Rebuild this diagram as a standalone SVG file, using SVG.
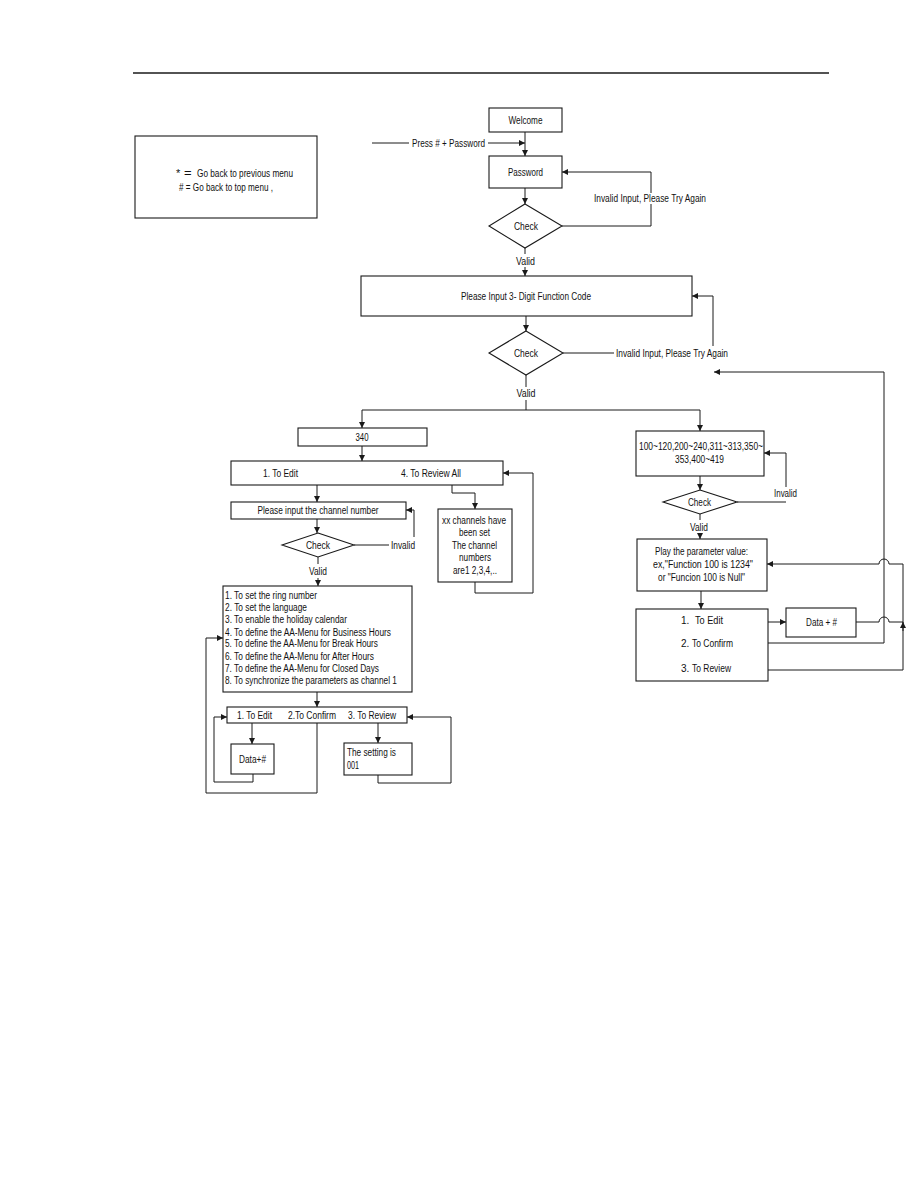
<svg xmlns="http://www.w3.org/2000/svg" width="918" height="1188" viewBox="0 0 918 1188">
<style>
.b{fill:#fff;stroke:#1a1a1a;stroke-width:1.1}
.c{fill:none;stroke:#1a1a1a;stroke-width:1}
.t{font-family:"Liberation Sans",Arial,sans-serif;font-size:10px;fill:#111}
.m{text-anchor:middle}
</style>
<defs>
<marker id="ah" viewBox="0 0 10 10" refX="10" refY="5" markerWidth="7" markerHeight="6" orient="auto" markerUnits="userSpaceOnUse"><path d="M0,0 L10,5 L0,10 z" fill="#1a1a1a"/></marker>
</defs>
<rect width="918" height="1188" fill="#fff"/>
<line x1="133" y1="73" x2="829" y2="73" stroke="#1a1a1a" stroke-width="1.5"/>

<g id="legend">
<rect class="b" x="135" y="136" width="182" height="82"/>
<text class="t" x="176" y="177" style="font-size:11px">*</text>
<text class="t" x="184" y="177" style="font-size:13px">=</text>
<text class="t" x="197" y="177" textLength="96" lengthAdjust="spacingAndGlyphs">Go back to previous menu</text>
<text class="t" x="179" y="191" textLength="94" lengthAdjust="spacingAndGlyphs"># = Go back to top menu ,</text>
</g>

<g id="connectors">
<path class="c" d="M372,143 H409"/>
<path class="c" d="M488,143 H525" marker-end="url(#ah)"/>
<path class="c" d="M525,132 V156" marker-end="url(#ah)"/>
<path class="c" d="M525,188 V204" marker-end="url(#ah)"/>
<path class="c" d="M562,226 H651 V204"/>
<path class="c" d="M651,193 V172 H562" marker-end="url(#ah)"/>
<path class="c" d="M525,248 V254"/>
<path class="c" d="M525,267 V276" marker-end="url(#ah)"/>
<path class="c" d="M526,316 V331" marker-end="url(#ah)"/>
<path class="c" d="M563,353 H614"/>
<path class="c" d="M713,346 V296 H692" marker-end="url(#ah)"/>
<path class="c" d="M526,375 V387"/>
<path class="c" d="M526,400 V410"/>
<path class="c" d="M526,410 H362 V428" marker-end="url(#ah)"/>
<path class="c" d="M526,410 H700 V431" marker-end="url(#ah)"/>
<path class="c" d="M362,446 V461" marker-end="url(#ah)"/>
<path class="c" d="M317,485 V502" marker-end="url(#ah)"/>
<path class="c" d="M317,519 V533" marker-end="url(#ah)"/>
<path class="c" d="M354,545 H389"/>
<path class="c" d="M414,537 V510 H406" marker-end="url(#ah)"/>
<path class="c" d="M318,557 V564"/>
<path class="c" d="M318,578 V586" marker-end="url(#ah)"/>
<path class="c" d="M452,485 V493 H475 V509" marker-end="url(#ah)"/>
<path class="c" d="M475,582 V593 H533 V473 H503" marker-end="url(#ah)"/>
<path class="c" d="M317,692 V707" marker-end="url(#ah)"/>
<path class="c" d="M317,723 V793 H206 V638 H223" marker-end="url(#ah)"/>
<path class="c" d="M253,774 V782 H214 V717 H227" marker-end="url(#ah)"/>
<path class="c" d="M252,723 V744" marker-end="url(#ah)"/>
<path class="c" d="M378,723 V743" marker-end="url(#ah)"/>
<path class="c" d="M378,775 V783 H451 V717 H407" marker-end="url(#ah)"/>
<path class="c" d="M700,476 V490" marker-end="url(#ah)"/>
<path class="c" d="M737,502 H786"/>
<path class="c" d="M786,487 V453 H764" marker-end="url(#ah)"/>
<path class="c" d="M700,514 V520"/>
<path class="c" d="M700,533 V539" marker-end="url(#ah)"/>
<path class="c" d="M701,591 V609" marker-end="url(#ah)"/>
<path class="c" d="M768,622 H786" marker-end="url(#ah)"/>
<path class="c" d="M856,622 H879 A5,5 0 0 1 889,622 H903"/>
<path class="c" d="M768,670 H903 V564 H889 A5,5 0 0 0 879,564 H767" marker-end="url(#ah)"/>
<path class="c" d="M903,631 V622" marker-end="url(#ah)"/>
<path class="c" d="M768,643 H884 V372 H714" marker-end="url(#ah)"/>
<text class="t" x="412" y="146.5" textLength="73" lengthAdjust="spacingAndGlyphs">Press # + Password</text>
<text class="t m" x="650" y="202" textLength="112" lengthAdjust="spacingAndGlyphs">Invalid Input, Please Try Again</text>
<text class="t m" x="525.5" y="264.5" textLength="19" lengthAdjust="spacingAndGlyphs">Valid</text>
<text class="t" x="616" y="356.5" textLength="112" lengthAdjust="spacingAndGlyphs">Invalid Input, Please Try Again</text>
<text class="t m" x="526" y="396.5" textLength="19" lengthAdjust="spacingAndGlyphs">Valid</text>
<text class="t" x="391" y="548.5" textLength="24" lengthAdjust="spacingAndGlyphs">Invalid</text>
<text class="t m" x="318" y="574.5" textLength="18" lengthAdjust="spacingAndGlyphs">Valid</text>
<text class="t" x="774" y="496.5" textLength="23" lengthAdjust="spacingAndGlyphs">Invalid</text>
<text class="t m" x="699" y="530.5" textLength="18" lengthAdjust="spacingAndGlyphs">Valid</text>
</g>

<g id="welcome">
<rect class="b" x="489" y="108" width="73" height="24"/>
<text class="t m" x="525.5" y="124" textLength="34" lengthAdjust="spacingAndGlyphs">Welcome</text>
</g>
<g id="password">
<rect class="b" x="489" y="156" width="73" height="32"/>
<text class="t m" x="525.5" y="175.5" textLength="35" lengthAdjust="spacingAndGlyphs">Password</text>
</g>
<g id="check1">
<polygon class="b" points="525,204 562,226 525,248 489,226"/>
<text class="t m" x="526" y="229.5" textLength="24" lengthAdjust="spacingAndGlyphs">Check</text>
</g>
<g id="function-code">
<rect class="b" x="361" y="276" width="331" height="40"/>
<text class="t m" x="526" y="299.5" textLength="130" lengthAdjust="spacingAndGlyphs">Please Input 3- Digit Function Code</text>
</g>
<g id="check2">
<polygon class="b" points="526,331 563,353 526,375 489,353"/>
<text class="t m" x="526" y="356.5" textLength="24" lengthAdjust="spacingAndGlyphs">Check</text>
</g>

<g id="n340">
<rect class="b" x="298" y="428" width="129" height="18"/>
<text class="t m" x="362" y="440.5" textLength="13" lengthAdjust="spacingAndGlyphs">340</text>
</g>
<g id="menu340">
<rect class="b" x="231" y="461" width="272" height="24"/>
<text class="t" x="263" y="476.5" textLength="35" lengthAdjust="spacingAndGlyphs">1. To Edit</text>
<text class="t" x="401" y="476.5" textLength="60" lengthAdjust="spacingAndGlyphs">4. To Review All</text>
</g>
<g id="channel-input">
<rect class="b" x="231" y="502" width="175" height="17"/>
<text class="t m" x="318" y="514" textLength="121" lengthAdjust="spacingAndGlyphs">Please input the channel number</text>
</g>
<g id="check3">
<polygon class="b" points="318,533 354,545 318,557 282,545"/>
<text class="t m" x="318" y="548.5" textLength="24" lengthAdjust="spacingAndGlyphs">Check</text>
</g>
<g id="review-all">
<rect class="b" x="438" y="509" width="74" height="73"/>
<text class="t m" x="474" y="523.5" textLength="64" lengthAdjust="spacingAndGlyphs">xx channels have</text>
<text class="t m" x="474.5" y="535.5" textLength="31" lengthAdjust="spacingAndGlyphs">been set</text>
<text class="t m" x="474.5" y="548.5" textLength="45" lengthAdjust="spacingAndGlyphs">The channel</text>
<text class="t m" x="475" y="560.5" textLength="32" lengthAdjust="spacingAndGlyphs">numbers</text>
<text class="t m" x="475" y="573.5" textLength="44" lengthAdjust="spacingAndGlyphs">are1 2,3,4,..</text>
</g>
<g id="options-list">
<rect class="b" x="223" y="586" width="189" height="106"/>
<text class="t" x="225" y="598.5" textLength="92" lengthAdjust="spacingAndGlyphs">1. To set the ring number</text>
<text class="t" x="225" y="610.5" textLength="82" lengthAdjust="spacingAndGlyphs">2. To set the language</text>
<text class="t" x="225" y="622.5" textLength="122" lengthAdjust="spacingAndGlyphs">3. To enable the holiday calendar</text>
<text class="t" x="225" y="635.5" textLength="166" lengthAdjust="spacingAndGlyphs">4. To define the AA-Menu for Business Hours</text>
<text class="t" x="225" y="646.5" textLength="153" lengthAdjust="spacingAndGlyphs">5. To define the AA-Menu for Break Hours</text>
<text class="t" x="225" y="659.5" textLength="149" lengthAdjust="spacingAndGlyphs">6. To define the AA-Menu for After Hours</text>
<text class="t" x="225" y="671.5" textLength="154" lengthAdjust="spacingAndGlyphs">7. To define the AA-Menu for Closed Days</text>
<text class="t" x="225" y="684" textLength="172" lengthAdjust="spacingAndGlyphs">8. To synchronize the parameters as channel 1</text>
</g>
<g id="edit-menu-left">
<rect class="b" x="227" y="707" width="180" height="16"/>
<text class="t" x="237" y="719" textLength="35" lengthAdjust="spacingAndGlyphs">1. To Edit</text>
<text class="t" x="288" y="719" textLength="48" lengthAdjust="spacingAndGlyphs">2.To Confirm</text>
<text class="t" x="348" y="719" textLength="48" lengthAdjust="spacingAndGlyphs">3. To Review</text>
</g>
<g id="data-left">
<rect class="b" x="231" y="744" width="43" height="30"/>
<text class="t m" x="252.5" y="762.5" textLength="27" lengthAdjust="spacingAndGlyphs">Data+#</text>
</g>
<g id="setting">
<rect class="b" x="344" y="743" width="68" height="32"/>
<text class="t" x="347" y="755.5" textLength="49" lengthAdjust="spacingAndGlyphs">The setting is</text>
<text class="t" x="347" y="768.5" textLength="12" lengthAdjust="spacingAndGlyphs">001</text>
</g>

<g id="codes">
<rect class="b" x="636" y="431" width="128" height="45"/>
<text class="t m" x="701" y="449.5" textLength="124" lengthAdjust="spacingAndGlyphs">100~120,200~240,311~313,350~</text>
<text class="t m" x="699.5" y="462.5" textLength="49" lengthAdjust="spacingAndGlyphs">353,400~419</text>
</g>
<g id="check4">
<polygon class="b" points="700,490 737,502 700,514 663,502"/>
<text class="t m" x="699.5" y="505.5" textLength="23" lengthAdjust="spacingAndGlyphs">Check</text>
</g>
<g id="play">
<rect class="b" x="637" y="539" width="130" height="52"/>
<text class="t m" x="701.5" y="554.5" textLength="93" lengthAdjust="spacingAndGlyphs">Play the parameter value:</text>
<text class="t m" x="703" y="567.5" textLength="100" lengthAdjust="spacingAndGlyphs">ex,"Function 100 is 1234"</text>
<text class="t m" x="701.5" y="580.5" textLength="87" lengthAdjust="spacingAndGlyphs">or "Funcion 100 is Null"</text>
</g>
<g id="edit-menu-right">
<rect class="b" x="636" y="609" width="132" height="72"/>
<text class="t" x="681" y="623.5">1.</text>
<text class="t" x="695" y="623.5" textLength="28" lengthAdjust="spacingAndGlyphs">To Edit</text>
<text class="t" x="681" y="646.5">2.</text>
<text class="t" x="692" y="646.5" textLength="41" lengthAdjust="spacingAndGlyphs">To Confirm</text>
<text class="t" x="681" y="671.5">3.</text>
<text class="t" x="692" y="671.5" textLength="39" lengthAdjust="spacingAndGlyphs">To Review</text>
</g>
<g id="data-right">
<rect class="b" x="786" y="608" width="70" height="29"/>
<text class="t m" x="821.5" y="625.5" textLength="31" lengthAdjust="spacingAndGlyphs">Data + #</text>
</g>
</svg>
